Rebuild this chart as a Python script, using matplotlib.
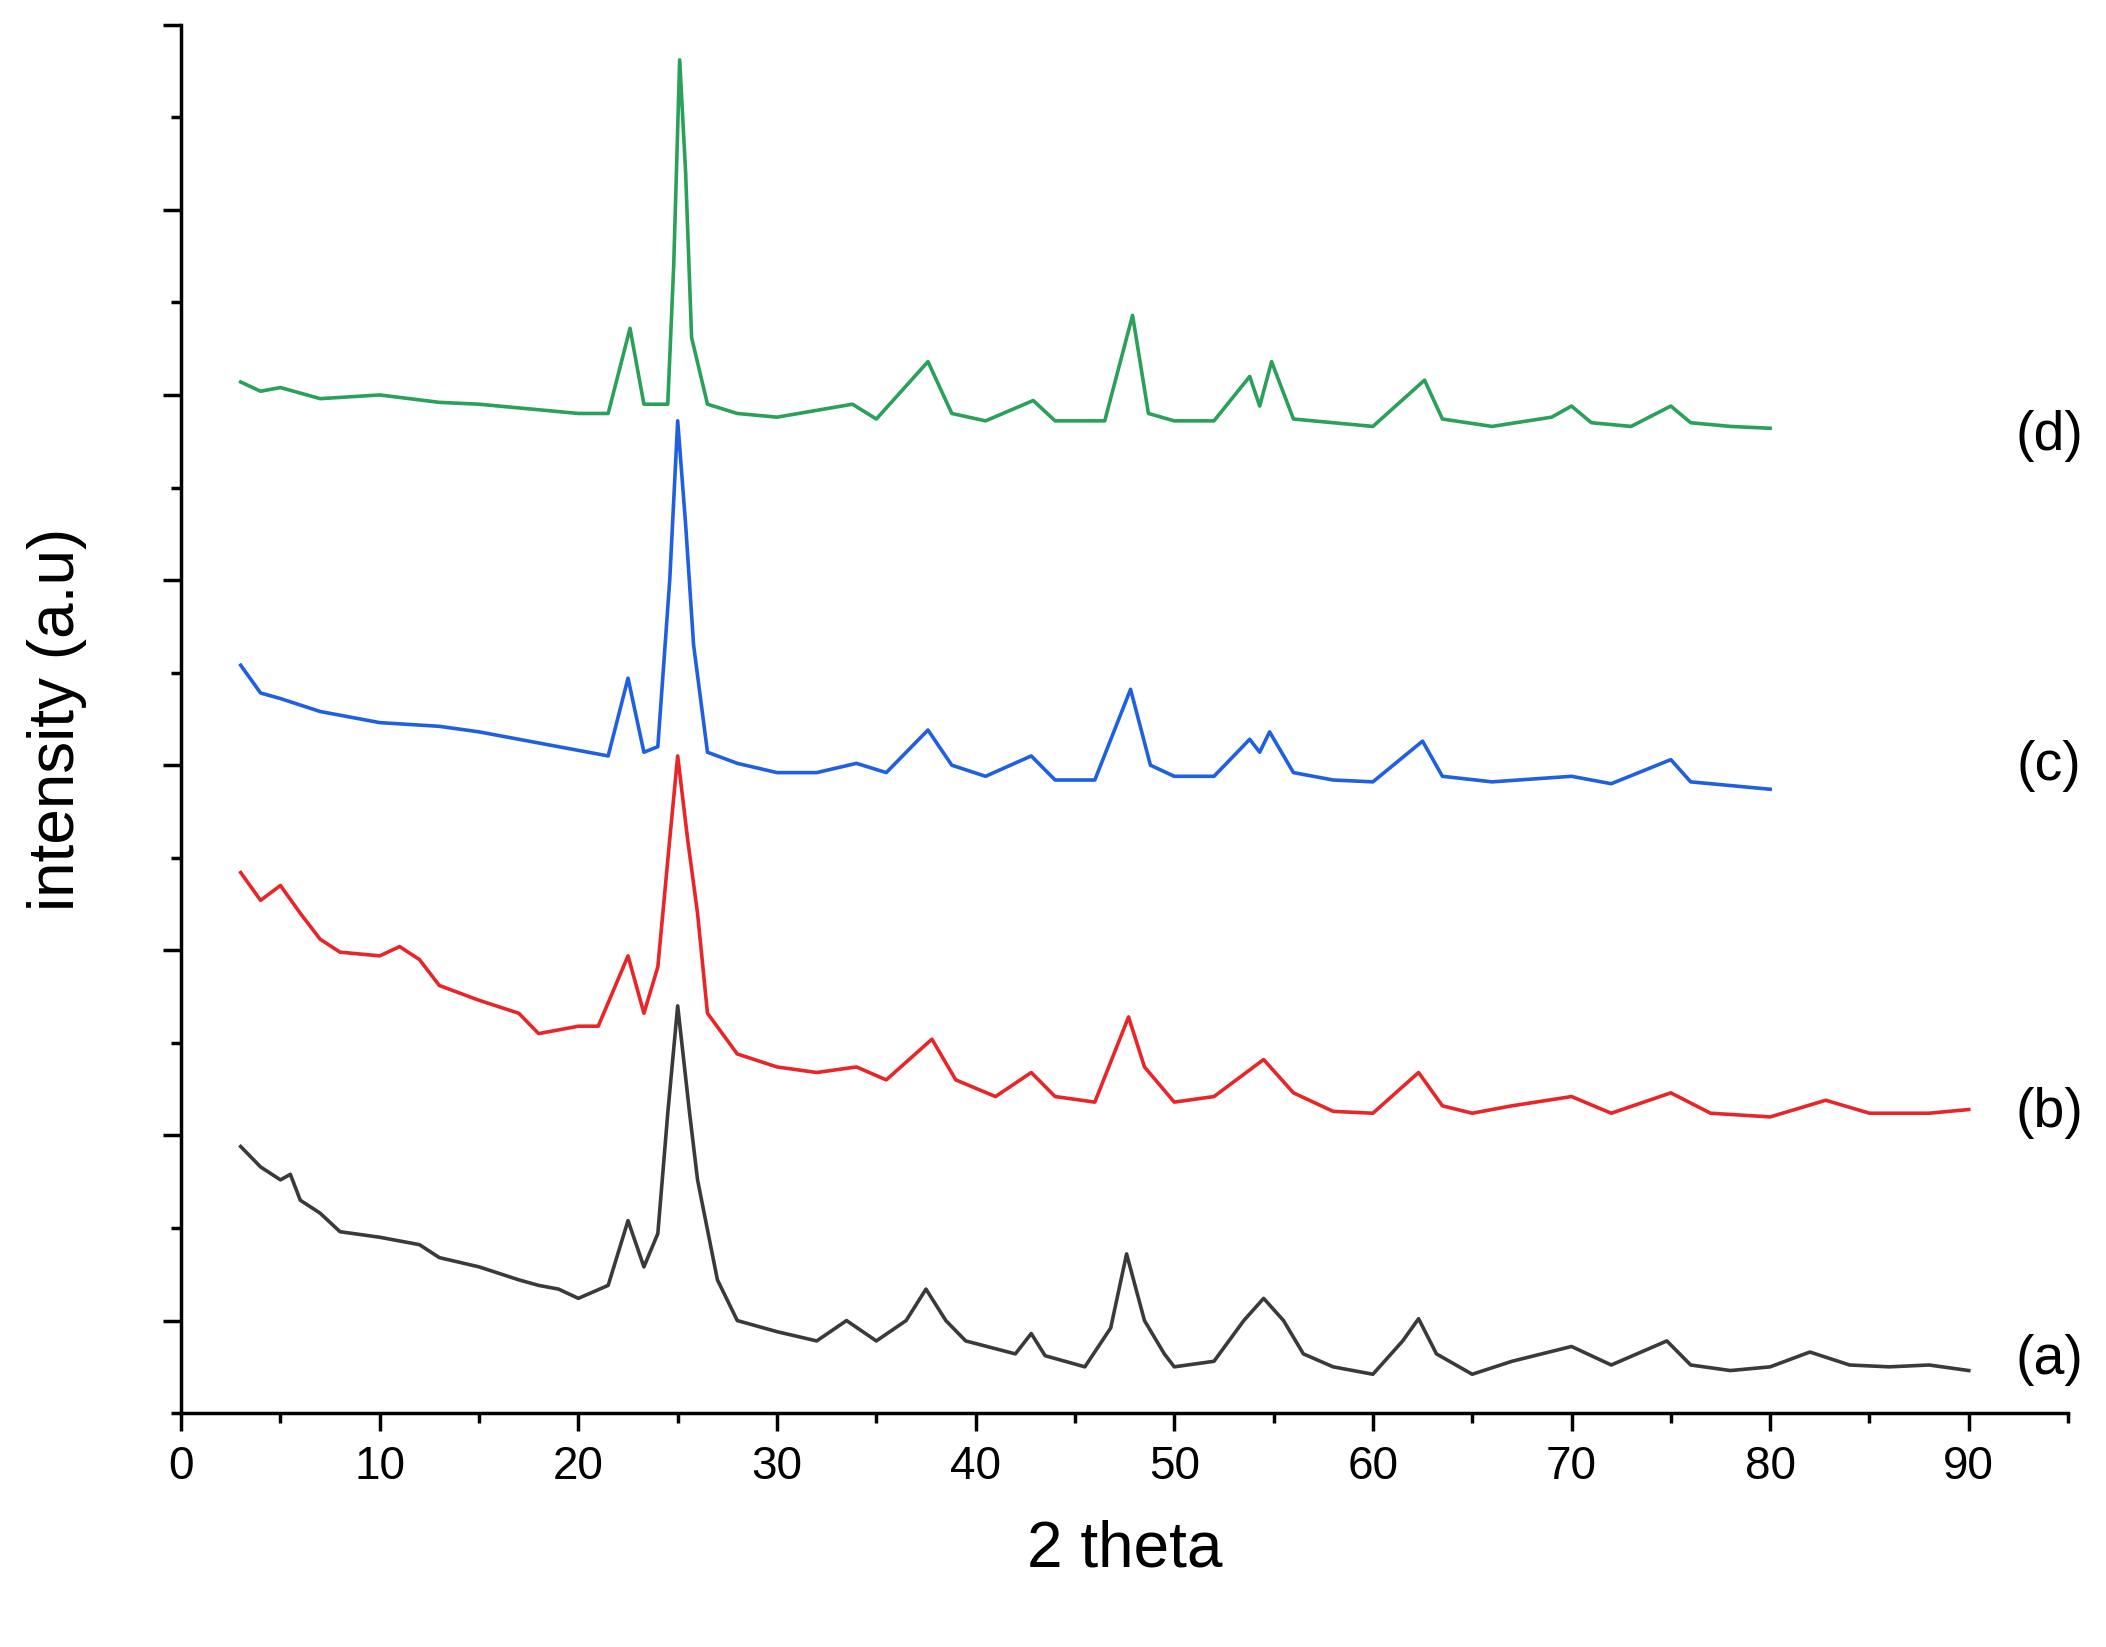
import matplotlib
matplotlib.use("Agg")
import matplotlib.pyplot as plt
from matplotlib.ticker import MultipleLocator

plt.rcParams['font.family'] = ['Liberation Sans', 'DejaVu Sans']

xa = [3,4,5,5.5,6,7,8,10,12,13,15,17,18,19,20,21.5,22.5,23.3,24,24.5,25,25.6,26,27,28,30,32,33.5,35,36.5,37.5,38.5,39.5,42,42.8,43.5,45.5,46.8,47.6,48.5,49.5,50,52,53.5,54.5,55.5,56.5,58,60,61.5,62.3,63.2,65,67,70,72,74.8,76,78,80,82,84,86,88,90]
ya = [1.94,1.83,1.76,1.79,1.65,1.58,1.48,1.45,1.41,1.34,1.29,1.22,1.19,1.17,1.12,1.19,1.54,1.29,1.47,2.12,2.70,2.12,1.76,1.22,1.00,0.94,0.89,1.00,0.89,1.00,1.17,1.00,0.89,0.82,0.93,0.81,0.75,0.96,1.36,1.00,0.82,0.75,0.78,1.00,1.12,1.00,0.82,0.75,0.71,0.89,1.01,0.82,0.71,0.78,0.86,0.76,0.89,0.76,0.73,0.75,0.83,0.76,0.75,0.76,0.73]

xb = [3,4,5,6,7,8,10,11,12,13,15,17,18,20,21,22.5,23.3,24,24.6,25,25.5,26,26.5,28,30,32,34,35.5,37.8,39,41,42.8,44,46,47.7,48.5,50,52,54.5,56,58,60,62.3,63.5,65,67,70,72,75,77,80,82.8,85,88,90]
yb = [3.42,3.27,3.35,3.20,3.06,2.99,2.97,3.02,2.95,2.81,2.73,2.66,2.55,2.59,2.59,2.97,2.66,2.91,3.60,4.05,3.60,3.20,2.66,2.44,2.37,2.34,2.37,2.30,2.52,2.30,2.21,2.34,2.21,2.18,2.64,2.37,2.18,2.21,2.41,2.23,2.13,2.12,2.34,2.16,2.12,2.16,2.21,2.12,2.23,2.12,2.10,2.19,2.12,2.12,2.14]

xc = [3,4,5,7,10,13,15,17,20,21.5,22.5,23.3,24,24.6,25,25.4,25.8,26.5,28,30,32,34,35.5,37.6,38.8,40.5,42.8,44,46,47.8,48.8,50,52,53.8,54.3,54.8,56,58,60,62.5,63.5,66,70,72,75,76,78,80]
yc = [4.54,4.39,4.36,4.29,4.23,4.21,4.18,4.14,4.08,4.05,4.47,4.07,4.10,5.00,5.86,5.30,4.65,4.07,4.01,3.96,3.96,4.01,3.96,4.19,4.00,3.94,4.05,3.92,3.92,4.41,4.00,3.94,3.94,4.14,4.07,4.18,3.96,3.92,3.91,4.13,3.94,3.91,3.94,3.90,4.03,3.91,3.89,3.87]

xd = [3,4,5,7,10,13,15,18,20,21.5,22.6,23.3,24.5,24.8,25.1,25.4,25.7,26.5,28,30,33.8,35,37.6,38.8,40.5,42.9,44,46.5,47.9,48.7,50,52,53.8,54.3,54.9,56,58,60,62.6,63.5,66,69,70,71,73,75,76,78,80]
yd = [6.07,6.02,6.04,5.98,6.00,5.96,5.95,5.92,5.90,5.90,6.36,5.95,5.95,6.70,7.81,7.20,6.31,5.95,5.90,5.88,5.95,5.87,6.18,5.90,5.86,5.97,5.86,5.86,6.43,5.90,5.86,5.86,6.10,5.94,6.18,5.87,5.85,5.83,6.08,5.87,5.83,5.88,5.94,5.85,5.83,5.94,5.85,5.83,5.82]

labels = ["(a)", "(b)", "(c)", "(d)"]
colors = ["#3a3a3a", "#e8262a", "#1f5fe0", "#2aa05a"]

fig = plt.figure(figsize=(21.06, 16.47), dpi=100)
ax = fig.add_axes([0.086, 0.142, 0.896, 0.843])
for x, y, c in zip([xa, xb, xc, xd], [ya, yb, yc, yd], colors):
    ax.plot(x, y, color=c, lw=2.6)
ax.set_xlim(0, 95)
ax.set_ylim(0.5, 8)
ax.spines["top"].set_visible(False)
ax.spines["right"].set_visible(False)
for s in ["left", "bottom"]:
    ax.spines[s].set_linewidth(2.5)
ax.xaxis.set_major_locator(MultipleLocator(10))
ax.xaxis.set_minor_locator(MultipleLocator(5))
ax.yaxis.set_major_locator(MultipleLocator(1))
ax.yaxis.set_minor_locator(MultipleLocator(0.5))
ax.tick_params(axis="both", which="major", direction="out", length=13, width=2.5, labelsize=33, pad=10)
ax.tick_params(axis="both", which="minor", direction="out", length=7, width=2.5)
ax.set_yticklabels([])
ax.set_xlabel("2 theta", fontsize=46, labelpad=22)
ax.set_ylabel("intensity (a.u)", fontsize=46, labelpad=45)
for lab, fy in zip(labels, [0.174, 0.324, 0.535, 0.735]):
    fig.text(0.973, fy, lab, fontsize=40, ha="center", va="center")
fig.savefig("out.png", dpi=100)
